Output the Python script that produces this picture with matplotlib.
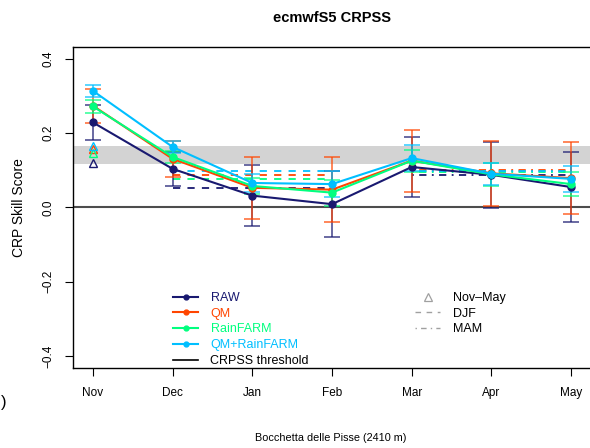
import matplotlib
matplotlib.use("Agg")
import matplotlib.pyplot as plt
from matplotlib.lines import Line2D
import numpy as np

plt.rcParams['font.family'] = ['Liberation Sans', 'DejaVu Sans']

months = ["Nov", "Dec", "Jan", "Feb", "Mar", "Apr", "May"]

raw = [0.229, 0.104, 0.032, 0.009, 0.109, 0.088, 0.055]
raw_err = [0.047, 0.046, 0.083, 0.088, 0.082, 0.089, 0.095]
qm = [0.274, 0.131, 0.053, 0.048, 0.126, 0.092, 0.079]
qm_err = [0.046, 0.048, 0.084, 0.088, 0.083, 0.088, 0.097]
rainfarm = [0.272, 0.136, 0.058, 0.040, 0.126, 0.089, 0.063]
rainfarm_err = [0.017, 0.017, 0.021, 0.035, 0.030, 0.031, 0.032]
qm_rainfarm = [0.314, 0.163, 0.066, 0.063, 0.133, 0.091, 0.077]
qm_rainfarm_err = [0.016, 0.016, 0.025, 0.034, 0.036, 0.030, 0.034]

# seasonal scores: whole season (Nov-May), winter (DJF), spring (MAM)
season_novmay = [0.121, 0.158, 0.148, 0.166]
season_djf = [0.052, 0.087, 0.077, 0.099]
season_mam = [0.088, 0.101, 0.095, 0.099]

threshold_band = (0.118, 0.166)

names = ["RAW", "QM", "RainFARM", "QM+RainFARM"]
colors = ["#191970", "#FF4500", "#00FF7F", "#00BFFF"]
series = [raw, qm, rainfarm, qm_rainfarm]
errors = [raw_err, qm_err, rainfarm_err, qm_rainfarm_err]

fig = plt.figure(figsize=(5.90, 4.48), dpi=100)
ax = fig.add_axes([73 / 590, 1 - 368 / 448, 518 / 590, (368 - 47) / 448])

x = np.arange(len(months))
ax.set_xlim(-0.25, 6.25)
ax.set_ylim(-0.432, 0.432)

ax.axhspan(threshold_band[0], threshold_band[1], color="#D3D3D3", lw=0, zorder=0)
ax.axhline(0, color="#4D4D4D", lw=1.5, zorder=1)

i_dec, i_feb = months.index("Dec"), months.index("Feb")
i_mar, i_may = months.index("Mar"), months.index("May")
for k, c in enumerate(colors):
    ax.plot([x[i_dec], x[i_feb]], [season_djf[k]] * 2, color=c, lw=1.3,
            dashes=(4, 4), zorder=2)
    ax.plot([x[i_mar], x[i_may]], [season_mam[k]] * 2, color=c, lw=1.3,
            dashes=(1, 3, 4, 3), zorder=2)

for s, e, c in zip(series, errors, colors):
    ax.errorbar(x, s, yerr=e, fmt="none", ecolor=c, elinewidth=1.3,
                capsize=5.8, capthick=1.3, alpha=0.7, zorder=3)

for s, c in zip(series, colors):
    ax.plot(x, s, color=c, lw=1.5, marker="o", markersize=5, zorder=4)

for k, c in enumerate(colors):
    ax.plot([x[0]], [season_novmay[k]], linestyle="none", marker="^",
            markersize=6, markerfacecolor="none", markeredgecolor=c,
            markeredgewidth=1.0, zorder=5)

ax.set_xticks(x)
ax.set_xticklabels(months)
ax.set_yticks([-0.4, -0.2, 0.0, 0.2, 0.4])
ax.set_yticklabels(["\u22120.4", "\u22120.2", "0.0", "0.2", "0.4"],
                   rotation=90, va="center")
ax.tick_params(axis="both", labelsize=8.5, length=6, width=0.8, direction="out")
ax.tick_params(axis="x", pad=8)
ax.tick_params(axis="y", pad=7)
for sp in ax.spines.values():
    sp.set_linewidth(1.0)

ax.set_ylabel("CRP Skill Score", fontsize=10, labelpad=12)
ax.set_title("ecmwfS5 CRPSS", fontsize=10.5, fontweight="bold", pad=18)
fig.text(331 / 590, 1 - 438 / 448, "Bocchetta delle Pisse (2410 m)",
         fontsize=7.8, ha="center", va="center")
fig.text(1 / 590, 1 - 402 / 448, ")", fontsize=12, ha="left", va="center")

handles1 = [Line2D([], [], color=c, lw=1.5, marker="o", markersize=3.5) for c in colors]
handles1.append(Line2D([], [], color="black", lw=1.2))
labels1 = names + ["CRPSS threshold"]
leg1 = ax.legend(handles1, labels1, loc="upper left",
                 bbox_to_anchor=(100 / 518, 1 - (292 - 47) / 321),
                 frameon=False, fontsize=9, handlelength=2.0, handletextpad=1.0,
                 labelspacing=0.3, borderpad=0, borderaxespad=0,
                 labelcolor=colors + ["black"])
ax.add_artist(leg1)

handles2 = [
    Line2D([], [], linestyle="none", marker="^", markersize=6,
           markerfacecolor="none", markeredgecolor="#A0A0A0", markeredgewidth=0.9),
    Line2D([], [], color="#A0A0A0", lw=1.0, dashes=(4, 4)),
    Line2D([], [], color="#A0A0A0", lw=1.0, dashes=(1, 3, 4, 3)),
]
ax.legend(handles2, ["Nov\u2013May", "DJF", "MAM"], loc="upper left",
          bbox_to_anchor=((415 - 73) / 518, 1 - (292 - 47) / 321),
          frameon=False, fontsize=9, handlelength=2.0, handletextpad=1.0,
          labelspacing=0.3, borderpad=0, borderaxespad=0)

fig.savefig("out.png", dpi=100)
